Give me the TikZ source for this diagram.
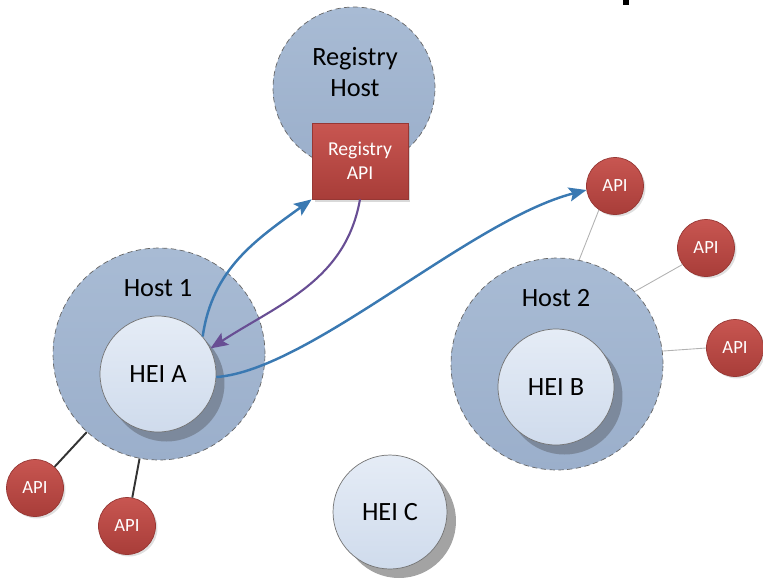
\documentclass[tikz,border=0pt]{standalone}
\usepackage{fontspec}
\setmainfont{Carlito}
\usetikzlibrary{positioning, calc, shadows, arrows.meta}

\definecolor{hostfill}{RGB}{168,187,212}
\definecolor{hostdark}{RGB}{155,175,203}
\definecolor{heitop}{RGB}{229,236,246}
\definecolor{heibot}{RGB}{207,219,236}
\definecolor{heishade}{RGB}{124,137,156}
\definecolor{apitop}{RGB}{200,86,81}
\definecolor{apibot}{RGB}{168,61,57}
\definecolor{apiedge}{RGB}{150,55,52}
\definecolor{callblue}{RGB}{58,121,178}
\definecolor{callpurple}{RGB}{104,78,148}

\begin{document}
\begin{tikzpicture}[x=0.02cm, y=-0.02cm,
    host/.style={circle, draw=gray!80!black, densely dashed, top color=hostfill,
      bottom color=hostdark, minimum size=4.24cm, inner sep=0pt},
    hostname/.style={font=\fontsize{15}{18}\selectfont, align=center},
    hei/.style={circle, draw=gray!90!black, top color=heitop, bottom color=heibot,
      minimum size=2.32cm, inner sep=0pt, font=\fontsize{15}{18}\selectfont},
    inshadow/.style={drop shadow={shadow xshift=0.17cm, shadow yshift=-0.19cm,
      fill=heishade, opacity=1}},
    outshadow/.style={drop shadow={shadow xshift=0.18cm, shadow yshift=-0.18cm,
      fill=black!45, opacity=.8}},
    api/.style={circle, draw=apiedge, top color=apitop, bottom color=apibot,
      minimum size=1.14cm, inner sep=0pt, text=white, font=\fontsize{10.6}{12}\selectfont,
      drop shadow={shadow xshift=0.04cm, shadow yshift=-0.04cm, opacity=.25}},
    regapi/.style={rectangle, draw=apiedge, top color=apitop, bottom color=apibot,
      minimum width=1.92cm, minimum height=1.52cm, text=white, align=center,
      font=\fontsize{11.2}{13.6}\selectfont,
      drop shadow={shadow xshift=0.05cm, shadow yshift=-0.05cm, opacity=.3}},
    link/.style={draw=black!80, line width=1.1pt},
    thinlink/.style={draw=gray!60, line width=0.5pt},
    call/.style={-{Stealth[length=10pt, width=8pt, inset=2pt]}, draw=callblue, line width=1.4pt},
    reply/.style={call, draw=callpurple, line width=1.2pt}]

  \useasboundingbox (0,0) rectangle (763,579);
  \fill (623,0) rectangle (629,5);

  \node[host] (host1) at (159,354) {};
  \node[host] (host2) at (557,364) {};
  \node[hostname] (host1name) at (158,288) {Host 1};
  \node[hostname] (host2name) at (556,298) {Host 2};

  \node[api] (api1) at (35,488) {API};
  \node[api] (api2) at (127,526) {API};
  \node[api] (api3) at (615,186) {API};
  \node[api] (api4) at (706,248) {API};
  \node[api] (api5) at (735,348) {API};

  \draw[link] (host1) -- (api1);
  \draw[link] (host1) -- (api2);
  \draw[thinlink] (host2.78) -- (api3.236);
  \draw[thinlink] (host2.43) -- (api4.215);
  \draw[thinlink] (host2.7) -- (api5.180);

  \node[hei, inshadow] (heia) at (158,374) {HEI A};
  \node[hei, inshadow] (heib) at (556,387) {HEI B};
  \node[hei, outshadow, minimum size=2.28cm] (heic) at (390,512) {HEI C};

  \node[host, minimum size=3.24cm] (reghost) at (354,88) {};
  \node[hostname] (reghostname) at (355,72) {Registry\\Host};
  \node[regapi] (regapi) at (360,161) {Registry\\API};

  \draw[call] (heia.40) to[out=82, in=-144] (regapi.south west);
  \draw[reply] (regapi.south) to[out=-100, in=33] (heia.26);
  \draw[call] (heia.-3) .. controls (310,370) and (470,220) .. (api3.188);
\end{tikzpicture}
\end{document}
